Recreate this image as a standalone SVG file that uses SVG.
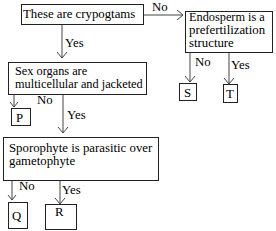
<svg xmlns="http://www.w3.org/2000/svg" width="276" height="231" viewBox="0 0 276 231">
<style>
.box{fill:#fff;stroke:#222;stroke-width:1}
text{font-family:'Liberation Serif','Times New Roman',serif;font-size:12.8px;fill:#000}
.s{font-size:12.3px}
.c{stroke:#444;stroke-width:1;fill:none}
</style>
<rect width="276" height="231" fill="#fff"/>
<g id="connectors">
<path class="c" d="M62 24V58"/><path class="c" d="M57 52L62 58L67 52"/>
<path class="c" d="M143 15H183"/><path class="c" d="M177 10L183 15L177 20"/>
<path class="c" d="M14 94V107"/><path class="c" d="M10 102L14 107L18 102"/>
<path class="c" d="M63 94V133"/><path class="c" d="M58 127L63 133L68 127"/>
<path class="c" d="M12 180V200"/><path class="c" d="M8 195L12 200L16 195"/>
<path class="c" d="M60 180V204"/><path class="c" d="M55 198L60 204L65 198"/>
<path class="c" d="M190 53V82"/><path class="c" d="M185 76L190 82L195 76"/>
<path class="c" d="M229 53V84"/><path class="c" d="M224 78L229 84L234 78"/>
<text x="65" y="47">Yes</text>
<text x="152" y="11">No</text>
<text x="37" y="104">No</text>
<text x="67" y="119">Yes</text>
<text x="19" y="190">No</text>
<text x="62" y="194">Yes</text>
<text x="195" y="66">No</text>
<text x="231" y="69">Yes</text>
</g>
<g id="n1"><rect class="box" x="21.5" y="4.5" width="122" height="20"/><text x="23" y="18" font-size="13.2">These are crypogtams</text></g>
<g id="n2"><rect class="box" x="185.5" y="11.5" width="87" height="41"/><text class="s" x="189" y="21">Endosperm is a</text><text x="189" y="34">prefertilization</text><text x="189" y="47">structure</text></g>
<g id="n3"><rect class="box" x="8.5" y="62.5" width="138" height="32"/><text class="s" x="15" y="75">Sex organs are</text><text class="s" x="15" y="88">multicellular and jacketed</text></g>
<g id="n4"><rect class="box" x="179.5" y="83.5" width="17" height="17"/><text x="184" y="97">S</text></g>
<g id="n5"><rect class="box" x="223.5" y="84.5" width="14" height="18"/><text x="226" y="98">T</text></g>
<g id="n6"><rect class="box" x="11.5" y="108.5" width="19" height="17"/><text x="16" y="122">P</text></g>
<g id="n7"><rect class="box" x="3.5" y="137.5" width="155" height="43"/><text x="9" y="152" font-size="13">Sporophyte is parasitic over</text><text x="9" y="165" font-size="13">gametophyte</text></g>
<g id="n8"><rect class="box" x="8.5" y="202.5" width="19" height="26"/><text x="12" y="220">Q</text></g>
<g id="n9"><rect class="box" x="45.5" y="204.5" width="31" height="25"/><text x="55" y="216">R</text></g>
</svg>
